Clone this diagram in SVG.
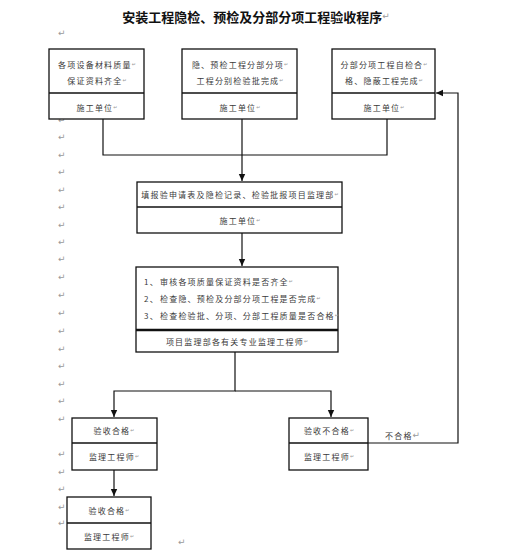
<svg xmlns="http://www.w3.org/2000/svg" width="513" height="554" viewBox="0 0 513 554">
<defs>
<style>
.bx{fill:#fff;stroke:#111;stroke-width:1.3}
.dv{stroke:#111;stroke-width:1.3}
.dv2{stroke:#111;stroke-width:2.4}
.ln{fill:none;stroke:#111;stroke-width:1.2}
.t{font-family:"Noto Sans CJK SC","Liberation Sans",sans-serif;font-size:8px;fill:#3a3a3a;letter-spacing:1.2px;dominant-baseline:central}
.c{text-anchor:middle}
.pm{font-family:"DejaVu Sans",sans-serif;font-size:9px;fill:#9a9a9a;dominant-baseline:central;letter-spacing:0}
.sm{font-family:"DejaVu Sans",sans-serif;font-size:5px;fill:#999;letter-spacing:0}
.title{font-family:"Noto Sans CJK SC",serif;font-size:13px;font-weight:bold;fill:#111;dominant-baseline:central}
</style>
<marker id="ar" markerWidth="8" markerHeight="8" refX="7" refY="4" orient="auto" markerUnits="userSpaceOnUse">
<path d="M0,0.8 L7,4 L0,7.2 Z" fill="#111"/>
</marker>
</defs>
<rect width="513" height="554" fill="#fff"/>

<text class="title" x="256" y="16" text-anchor="middle">安装工程隐检、预检及分部分项工程验收程序<tspan class="pm" font-weight="normal">↵</tspan></text>

<g id="margin-marks">
<text class="pm" x="58" y="33">↵</text>
<text class="pm" x="58" y="120">↵</text>
<text class="pm" x="58" y="137">↵</text>
<text class="pm" x="58" y="155">↵</text>
<text class="pm" x="58" y="172">↵</text>
<text class="pm" x="58" y="190">↵</text>
<text class="pm" x="58" y="207">↵</text>
<text class="pm" x="58" y="225">↵</text>
<text class="pm" x="58" y="242">↵</text>
<text class="pm" x="58" y="259">↵</text>
<text class="pm" x="58" y="277">↵</text>
<text class="pm" x="58" y="295">↵</text>
<text class="pm" x="58" y="313">↵</text>
<text class="pm" x="58" y="331">↵</text>
<text class="pm" x="58" y="349">↵</text>
<text class="pm" x="58" y="366">↵</text>
<text class="pm" x="58" y="384">↵</text>
<text class="pm" x="58" y="401">↵</text>
<text class="pm" x="58" y="419">↵</text>
<text class="pm" x="58" y="454">↵</text>
<text class="pm" x="58" y="472">↵</text>
<text class="pm" x="58" y="489">↵</text>
<text class="pm" x="58" y="507">↵</text>
<text class="pm" x="58" y="523">↵</text>
<text class="pm" x="178" y="542">↵</text>
</g>

<g id="connectors">
<polyline class="ln" points="103,119 103,155 387,155 387,119"/>
<line class="ln" x1="242" y1="119" x2="242" y2="181" marker-end="url(#ar)"/>
<line class="ln" x1="242" y1="233" x2="242" y2="266" marker-end="url(#ar)"/>
<polyline class="ln" points="235,352 235,391 114,391 114,417" marker-end="url(#ar)"/>
<polyline class="ln" points="235,391 331,391 331,417" marker-end="url(#ar)"/>
<polyline class="ln" points="368,443 458,443 458,93 436,93" marker-end="url(#ar)"/>
<line class="ln" x1="114" y1="470" x2="114" y2="496" marker-end="url(#ar)"/>
<text class="t" x="385" y="435" letter-spacing="0.8">不合格<tspan class="pm">↵</tspan></text>
</g>

<g id="node-materials">
<rect class="bx" x="49" y="49" width="95" height="70"/>
<line class="dv" x1="49" y1="93" x2="144" y2="93"/>
<text class="t c" x="97" y="64">各项设备材料质量<tspan class="sm">↵</tspan></text>
<text class="t c" x="97" y="80">保证资料齐全<tspan class="sm">↵</tspan></text>
<text class="t c" x="97" y="107">施工单位<tspan class="sm">↵</tspan></text>
</g>

<g id="node-concealed">
<rect class="bx" x="182" y="49" width="115" height="70"/>
<line class="dv" x1="182" y1="93" x2="297" y2="93"/>
<text class="t c" x="240" y="64">隐、预检工程分部分项<tspan class="sm">↵</tspan></text>
<text class="t c" x="240" y="80">工程分别检验批完成<tspan class="sm">↵</tspan></text>
<text class="t c" x="240" y="107">施工单位<tspan class="sm">↵</tspan></text>
</g>

<g id="node-selfcheck">
<rect class="bx" x="332" y="49" width="103" height="70"/>
<line class="dv" x1="332" y1="93" x2="435" y2="93"/>
<text class="t c" x="384" y="64">分部分项工程自检合<tspan class="sm">↵</tspan></text>
<text class="t c" x="384" y="80">格、隐蔽工程完成<tspan class="sm">↵</tspan></text>
<text class="t c" x="384" y="107">施工单位<tspan class="sm">↵</tspan></text>
</g>

<g id="node-submit">
<rect class="bx" x="137" y="182" width="205" height="51"/>
<line class="dv" x1="137" y1="207" x2="342" y2="207"/>
<text class="t c" x="240" y="194" letter-spacing="0.9">填报验申请表及隐检记录、检验批报项目监理部<tspan class="sm">↵</tspan></text>
<text class="t c" x="240" y="220">施工单位<tspan class="sm">↵</tspan></text>
</g>

<g id="node-review">
<rect class="bx" x="136" y="267" width="202" height="85"/>
<line class="dv2" x1="136" y1="330" x2="338" y2="330"/>
<text class="t" x="144" y="281">1、</text>
<text class="t" x="160" y="281" letter-spacing="1.3">审核各项质量保证资料是否齐全<tspan class="sm">↵</tspan></text>
<text class="t" x="144" y="298">2、</text>
<text class="t" x="160" y="298" letter-spacing="1.3">检查隐、预检及分部分项工程是否完成<tspan class="sm">↵</tspan></text>
<text class="t" x="144" y="315">3、</text>
<text class="t" x="160" y="315" letter-spacing="1.0">检查检验批、分项、分部工程质量是否合格<tspan class="sm">↵</tspan></text>
<text class="t c" x="237" y="341">项目监理部各有关专业监理工程师<tspan class="sm">↵</tspan></text>
</g>

<g id="node-pass">
<rect class="bx" x="72" y="418" width="85" height="52"/>
<line class="dv" x1="72" y1="443" x2="157" y2="443"/>
<text class="t c" x="114" y="430">验收合格<tspan class="sm">↵</tspan></text>
<text class="t c" x="114" y="456">监理工程师<tspan class="sm">↵</tspan></text>
</g>

<g id="node-fail">
<rect class="bx" x="289" y="418" width="79" height="52"/>
<line class="dv" x1="289" y1="443" x2="368" y2="443"/>
<text class="t c" x="329" y="430">验收不合格<tspan class="sm">↵</tspan></text>
<text class="t c" x="329" y="456">监理工程师<tspan class="sm">↵</tspan></text>
</g>

<g id="node-final">
<rect class="bx" x="67" y="497" width="84" height="52"/>
<line class="dv" x1="67" y1="523" x2="151" y2="523"/>
<text class="t c" x="109" y="510">验收合格<tspan class="sm">↵</tspan></text>
<text class="t c" x="109" y="536">监理工程师<tspan class="sm">↵</tspan></text>
</g>
</svg>
